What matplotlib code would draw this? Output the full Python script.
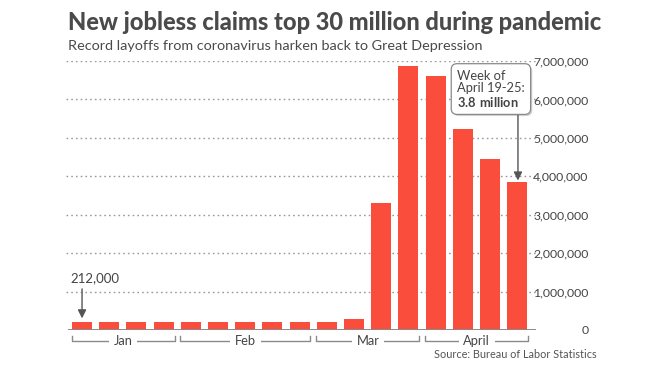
import matplotlib
matplotlib.use("Agg")
import matplotlib.pyplot as plt
import matplotlib.patheffects as pe
from matplotlib.transforms import blended_transform_factory

plt.rcParams['font.family'] = ['Lato', 'DejaVu Sans']
plt.rcParams['mathtext.fontset'] = 'custom'
plt.rcParams['mathtext.rm'] = 'Lato'
plt.rcParams['mathtext.bf'] = 'Lato:bold'

# ---- data ----
weeks = ["Jan 4", "Jan 11", "Jan 18", "Jan 25",
         "Feb 1", "Feb 8", "Feb 15", "Feb 22", "Feb 29",
         "Mar 7", "Mar 14", "Mar 21", "Mar 28",
         "Apr 4", "Apr 11", "Apr 18", "Apr 25"]
claims = [212000, 214000, 220000, 216000,
          203000, 205000, 210000, 219000, 217000,
          211000, 282000, 3307000, 6867000,
          6615000, 5237000, 4442000, 3839000]
months = ["Jan", "Feb", "Mar", "April"]
month_first = [0, 4, 9, 13]
month_last = [3, 8, 12, 16]
yticks = [0, 1000000, 2000000, 3000000, 4000000, 5000000, 6000000, 7000000]
ytick_labels = ["0", "1,000,000", "2,000,000", "3,000,000", "4,000,000",
                "5,000,000", "6,000,000", "7,000,000"]

BAR = "#fa4d3b"
TXT = "#444444"
GRID = "#9a9a9a"

fig = plt.figure(figsize=(6.6, 3.71), dpi=100)
ax = fig.add_axes([66/660, 41/371, 471/660, 269/371])

x = list(range(len(claims)))
ax.bar(x, claims, width=0.735, color=BAR, zorder=3)
ax.set_xlim(-0.59, 16.73)
ax.set_ylim(0, 7000000)

for s in ax.spines.values():
    s.set_visible(False)
ax.axhline(0, xmin=3/471, xmax=469/471, color="#8a8a8a", lw=1.4, zorder=4)

ax.yaxis.grid(True, linestyle=(0, (1.2, 2.2)), color=GRID, lw=1.0, zorder=0)
ax.set_xticks([])
ax.yaxis.tick_right()
ax.set_yticks(yticks)
ax.set_yticklabels(ytick_labels)
ax.tick_params(axis='y', length=0, pad=37, labelsize=8.8, labelcolor=TXT)
for lab in ax.get_yticklabels():
    lab.set_horizontalalignment('right')
ax.yaxis.get_gridlines()[0].set_visible(False)

# title / subtitle
fig.text(68/660, 1 - 30/371, "New jobless claims top 30 million during pandemic",
         fontsize=17.0, fontweight='black', color="#4a4a4a", va='baseline', ha='left')
fig.text(68/660, 1 - 50/371, "Record layoffs from coronavirus harken back to Great Depression",
         fontsize=10.4, color="#4a4a4a", va='baseline', ha='left')

# first-bar annotation
ax.annotate("", xy=(0, claims[0] + 90000), xytext=(0, 1070000),
            arrowprops=dict(arrowstyle="-|>,head_length=0.5,head_width=0.25",
                            color="#555555", lw=1.0, shrinkA=0, shrinkB=0),
            zorder=5)
ax.text(-0.44, 1250000, "212,000", fontsize=9.5, color=TXT, ha='left', va='baseline')

# callout box for last bar
t = ax.text(13.79, 6270000, "Week of\nApril 19-25:\n$\\mathbf{3.8\\ million}$",
            fontsize=9.3, color=TXT, ha='left', va='center', linespacing=1.05,
            bbox=dict(boxstyle="round,pad=0.45,rounding_size=0.45",
                      fc="white", ec="#8a8a8a", lw=0.9), zorder=6)
t.get_bbox_patch().set_path_effects([pe.SimplePatchShadow(offset=(1.2, -1.2), alpha=0.25),
                                     pe.Normal()])
ax.annotate("", xy=(16.03, claims[16] + 50000), xytext=(16.03, 5590000),
            arrowprops=dict(arrowstyle="-|>,head_length=0.5,head_width=0.25",
                            color="#555555", lw=1.0, shrinkA=0, shrinkB=0),
            zorder=5)

# month brackets
tr = blended_transform_factory(ax.transData, ax.transAxes)
yl = -11/269
yt = -6/269
for name, a, b in zip(months, month_first, month_last):
    x0, x1 = a - 0.38, b + 0.4
    ax.plot([x0, x0, x1, x1], [yt, yl, yl, yt], transform=tr, color="#8a8a8a",
            lw=1.0, clip_on=False, zorder=2)
    ax.text((x0 + x1) / 2, yl, name, transform=tr, fontsize=9.3, color=TXT,
            ha='center', va='center', zorder=3,
            bbox=dict(boxstyle="square,pad=0.35", fc="white", ec="none"))

fig.text(597/660, 1 - 358/371, "Source: Bureau of Labor Statistics",
         fontsize=7.8, color="#555555", ha='right', va='baseline')

fig.savefig("out.png", dpi=100)
